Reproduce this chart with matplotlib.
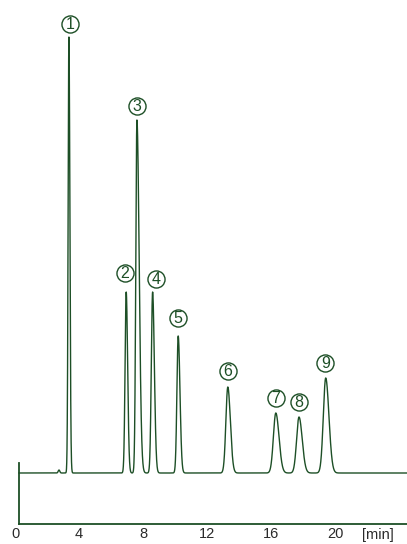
import numpy as np
import matplotlib.pyplot as plt

plt.rcParams["font.family"] = ["Liberation Sans", "DejaVu Sans"]

# peak table (time in min, height in px above baseline)
retention = [3.37, 6.95, 7.62, 8.6, 10.2, 13.3, 16.3, 17.75, 19.42]
heights = [436, 181, 353, 181, 137, 86, 60, 56, 95]
sigma_left = [0.05, 0.07, 0.07, 0.08, 0.08, 0.12, 0.15, 0.15, 0.15]
sigma_right = [0.06, 0.09, 0.14, 0.11, 0.11, 0.16, 0.2, 0.2, 0.2]
labels = ["1", "2", "3", "4", "5", "6", "7", "8", "9"]
label_y = [500, 251, 418, 245, 206, 153, 126, 122, 161]
label_x = [3.45, 6.85, 7.6, 8.8, 10.2, 13.3, 16.3, 17.75, 19.4]
xticks = [0, 4, 8, 12, 16, 20]

baseline = 51
color = "#1d4f26"

t = np.linspace(0.25, 24.5, 6000)
signal = np.full_like(t, baseline, dtype=float)
for rt, h, sl, sr in zip(retention, heights, sigma_left, sigma_right):
    s = np.where(t < rt, sl, sr)
    signal += h * np.exp(-0.5 * ((t - rt) / s) ** 2)
# small disturbance before first peak
signal += 3 * np.exp(-0.5 * ((t - 2.75) / 0.05) ** 2)

fig = plt.figure(figsize=(4.07, 5.44), dpi=100)
ax = fig.add_axes([15 / 407, 20 / 544, 392 / 407, 524 / 544])
ax.plot(t, signal, color=color, lw=1.0)

# circled peak numbers
ax.plot(label_x, label_y, "o", ms=12.3, mfc="none", mec=color, mew=1.0)
for lab, lx, ly in zip(labels, label_x, label_y):
    ax.text(lx, ly - 0.5, lab, ha="center", va="center", fontsize=11.5, color=color)

ax.set_xlim(0, 24.5)
ax.set_ylim(0, 524)
ax.spines["top"].set_visible(False)
ax.spines["right"].set_visible(False)
ax.spines["left"].set_position(("data", 0.25))
ax.spines["left"].set_bounds(0, 61)
ax.spines["bottom"].set_bounds(0.25, 24.5)
for sp in ("left", "bottom"):
    ax.spines[sp].set_color(color)
    ax.spines[sp].set_linewidth(1.3)
ax.set_yticks([])
ax.set_xticks(xticks)
ax.set_xticklabels([str(v) for v in xticks])
ax.tick_params(axis="x", length=0, pad=2.5, labelsize=10.5, labelcolor="#2a2a2a")
ax.text(22.7, -4.5, "[min]", ha="center", va="top", fontsize=10.5, color="#2a2a2a")

fig.savefig("out.png", dpi=100)
